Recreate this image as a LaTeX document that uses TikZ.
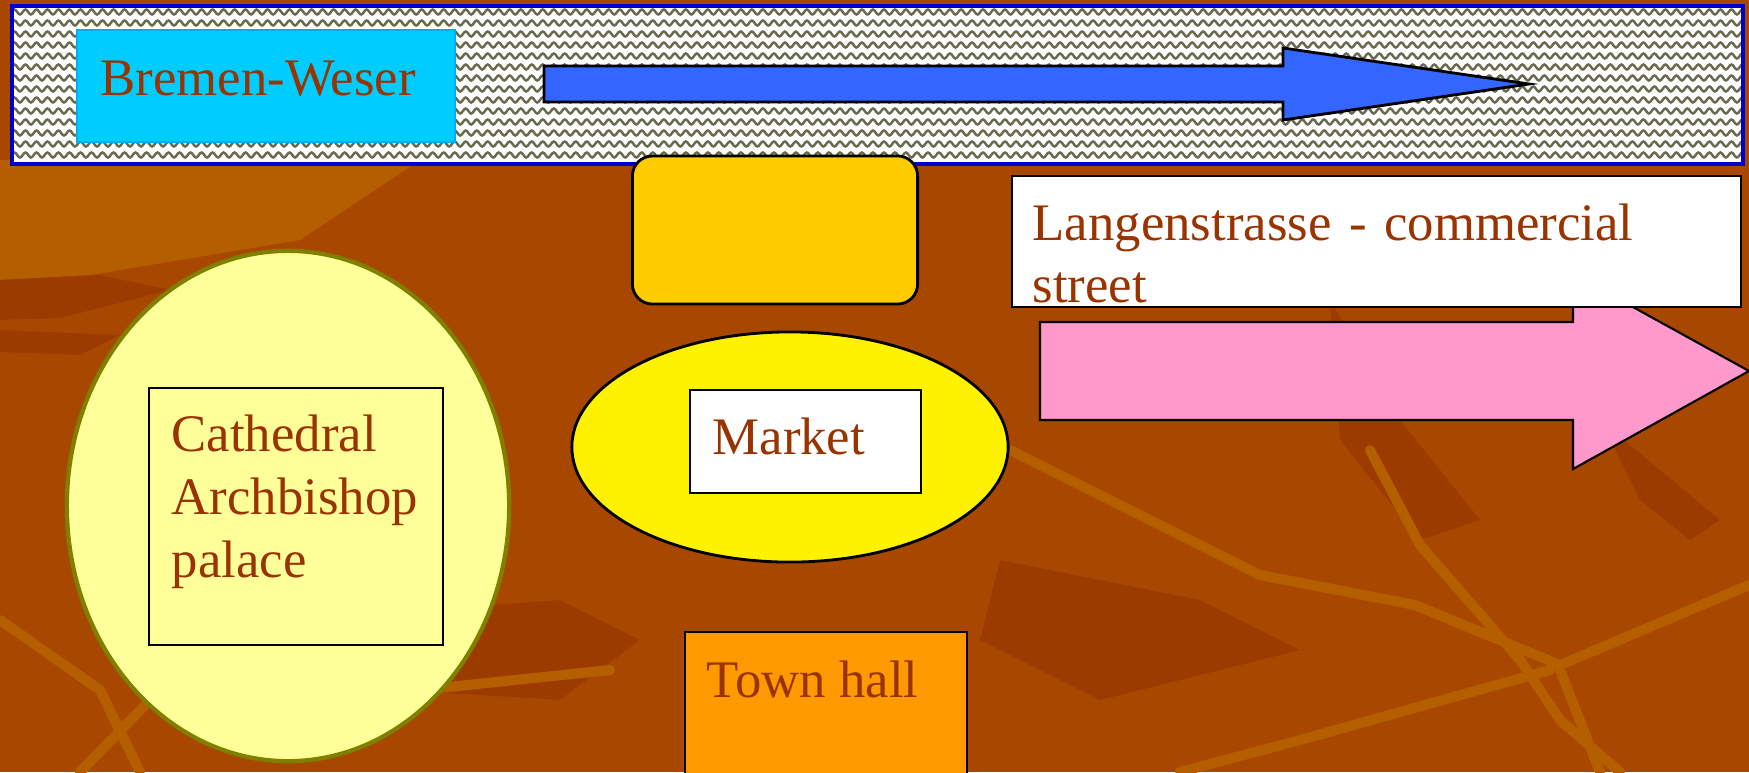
\documentclass[tikz,border=0pt]{standalone}
\usepackage{fontspec}
\setmainfont{Liberation Serif}
\usetikzlibrary{shapes.geometric,decorations.pathmorphing}
\definecolor{bgbrown}{HTML}{A84800}
\definecolor{bglight}{HTML}{B45E00}
\definecolor{bgdark}{HTML}{9C3B00}
\definecolor{txtbrown}{HTML}{993300}
\definecolor{riverblue}{HTML}{3366FF}
\definecolor{bandblue}{HTML}{0000CC}
\definecolor{cyanbox}{HTML}{00CCFF}
\definecolor{goldbox}{HTML}{FFCC00}
\definecolor{paleyellow}{HTML}{FFFF99}
\definecolor{olive}{HTML}{7F7F00}
\definecolor{pinkarrow}{HTML}{FF99CC}
\definecolor{townorange}{HTML}{FF9900}
\definecolor{wavegray}{HTML}{6A6A50}
\tikzstyle{word}=[text=txtbrown, font=\fontsize{15}{17.8}\selectfont, inner sep=0pt, anchor=base west, align=left]
\tikzstyle{box}=[rectangle, draw=black, line width=0.6pt, inner sep=0pt]
\tikzstyle{wave}=[draw=wavegray, line width=0.7pt, decorate, decoration={snake, segment length=0.11cm, amplitude=0.025cm}]
\tikzstyle{branch}=[draw=bglight, line width=0.1cm, line cap=round, line join=round]
\tikzstyle{shade}=[fill=bgdark]

\begin{document}
\begin{tikzpicture}[x=0.01cm, y=-0.01cm]
    \useasboundingbox (0,0) rectangle (1749,772);
    \clip (0,0) rectangle (1749,772);
    % background
    \fill[bgbrown] (0,0) rectangle (1749,772);
    \fill[bglight] (0,160) -- (420,160) -- (300,240) -- (90,275) -- (0,280) -- cycle;
    \fill[shade] (0,280) -- (100,275) -- (170,290) -- (60,318) -- (0,320) -- cycle;
    \fill[shade] (0,330) -- (120,335) -- (80,355) -- (0,352) -- cycle;
    \fill[shade] (1330,300) -- (1400,420) -- (1480,520) -- (1420,540) -- (1340,440) -- cycle;
    \fill[shade] (1600,420) -- (1720,520) -- (1690,540) -- (1640,500) -- cycle;
    \fill[shade] (1000,560) -- (1200,600) -- (1300,650) -- (1100,700) -- (980,640) -- cycle;
    \fill[shade] (420,610) -- (560,600) -- (640,640) -- (560,700) -- (400,690) -- cycle;
    \draw[branch] (1010,450) -- (1260,575) -- (1415,605) -- (1560,665) -- (1749,585);
    \draw[branch] (1370,450) -- (1420,545) -- (1520,660) -- (1560,720) -- (1620,772);
    \draw[branch] (1550,670) -- (1300,740) -- (1180,772);
    \draw[branch] (1560,670) -- (1600,772);
    \draw[branch] (0,620) -- (100,690) -- (140,772);
    \draw[branch] (150,700) -- (80,772);
    \draw[branch] (420,690) -- (610,670);
    % river band
    \begin{scope}
        \clip (12,6) rectangle (1743,164);
        \fill[white] (12,6) rectangle (1743,164);
        \foreach \y in {12,23,...,166}
            \draw[wave] (0,\y) -- (1760,\y);
    \end{scope}
    \draw[bandblue, line width=1pt] (12,6) rectangle (1743,164);
    \node[rectangle, fill=cyanbox, draw=cyan, line width=0.6pt, minimum width=3.77cm, minimum height=1.12cm] (riverbox) at (266,86) {};
    \node[style=word] (rivername) at (100,95) {Bremen-Weser};
    \draw[fill=riverblue, line width=0.8pt, line join=miter] (544,66) -- (1283,66) -- (1283,48) -- (1529,84) -- (1283,120) -- (1283,102) -- (544,102) -- cycle;
    % blank gold block
    \node[rectangle, draw=black, fill=goldbox, line width=0.8pt, rounded corners=0.2cm, minimum width=2.85cm, minimum height=1.48cm] (goldblock) at (775,230) {};
    % commercial street
    \draw[fill=pinkarrow, line width=0.6pt] (1040,322) -- (1573,322) -- (1573,274) -- (1749,371) -- (1573,469) -- (1573,420) -- (1040,420) -- cycle;
    \node[style=box, fill=white, minimum width=7.29cm, minimum height=1.31cm] (streetbox) at (1376.5,241.5) {};
    \node[style=word, text width=6.9cm] (streetname) at (1032,240) {Langenstrasse - commercial street};
    % cathedral
    \node[ellipse, draw=olive, fill=paleyellow, line width=1.2pt, minimum width=4.42cm, minimum height=5.1cm] (cathoval) at (288,506) {};
    \node[style=box, fill=paleyellow, minimum width=2.94cm, minimum height=2.57cm] (cathbox) at (296,516.5) {};
    \node[style=word] (cathname) at (171,577) {Cathedral\\Archbishop\\palace};
    % market
    \node[ellipse, draw=black, fill=yellow, line width=0.8pt, minimum width=4.36cm, minimum height=2.3cm] (marketoval) at (790,447) {};
    \node[style=box, fill=white, minimum width=2.31cm, minimum height=1.03cm] (marketbox) at (805.5,441.5) {};
    \node[style=word] (marketname) at (712,454) {Market};
    % town hall
    \node[style=box, fill=townorange, minimum width=2.82cm, minimum height=1.6cm] (townbox) at (826,712) {};
    \node[style=word] (townname) at (706,697) {Town hall};
\end{tikzpicture}
\end{document}
